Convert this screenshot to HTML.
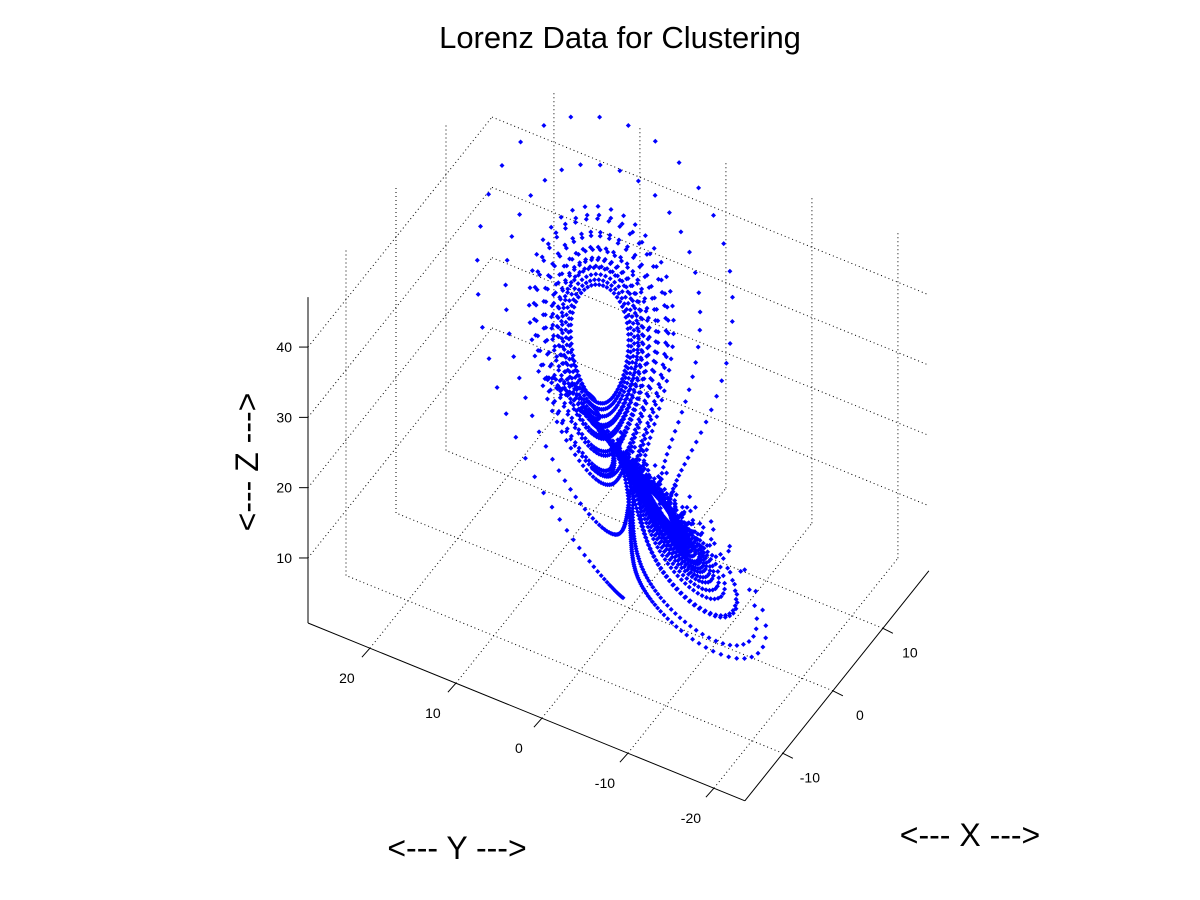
<!DOCTYPE html>
<html><head><meta charset="utf-8"><style>
html,body{margin:0;padding:0;background:#fff;}
svg{display:block;font-family:"Liberation Sans",sans-serif;}
</style></head><body>
<svg id="chart" width="1200" height="900" viewBox="0 0 1200 900" xmlns="http://www.w3.org/2000/svg">
<rect width="1200" height="900" fill="#fff"/>
<text x="620" y="48" font-size="31" text-anchor="middle" fill="#000">Lorenz Data for Clustering</text>
<g id="grid" stroke="#000" stroke-width="1" stroke-dasharray="1,3" fill="none"></g>
<g id="axes" stroke="#000" stroke-width="1" fill="none"></g>
<g id="ticklabels" font-size="14" fill="#000"></g>
<g id="points" fill="#0000ff"></g>
<text x="457" y="859" font-size="32" text-anchor="middle" fill="#000">&lt;--- Y ---&gt;</text>
<text x="970" y="846" font-size="32" text-anchor="middle" fill="#000">&lt;--- X ---&gt;</text>
<text transform="translate(258,462) rotate(-90)" font-size="32" text-anchor="middle" fill="#000">&lt;--- Z ---&gt;</text>
</svg>
<script>
const xTicks = [-10, 0, 10];
const yTicks = [20, 10, 0, -10, -20];
const zTicks = [10, 20, 30, 40];
const xLim = [-17.6, 19.2];
const yLim = [-23.6, 27.2];
const zLim = [0.75, 47.1];
const lorenzParams = [10, 28, 8 / 3];
const initialState = [0.5, 1, 1.2];
const sampleCount = [3000];

const NS = 'http://www.w3.org/2000/svg';
function P(x, y, z) {
  const sx = 308 + (x - xLim[0]) * 5.0 + (yLim[1] - y) * 8.6;
  const sy = 623 - (x - xLim[0]) * 6.25 + (yLim[1] - y) * 3.5 - (z - zLim[0]) * 7.03;
  return [sx, sy];
}
function line(g, a, b, name) {
  const l = document.createElementNS(NS, 'line');
  l.setAttribute('x1', a[0]); l.setAttribute('y1', a[1]);
  l.setAttribute('x2', b[0]); l.setAttribute('y2', b[1]);
  
  
  g.appendChild(l);
}
function label(g, x, y, t, anchor, name) {
  const e = document.createElementNS(NS, 'text');
  e.setAttribute('x', x); e.setAttribute('y', y);
  e.setAttribute('text-anchor', anchor);
  e.textContent = t;
  
  
  g.appendChild(e);
}
const grid = document.getElementById('grid');
const X0 = xLim[0], X1 = xLim[1], Y0 = yLim[0], Y1 = yLim[1], Z0 = zLim[0], Z1 = zLim[1];
xTicks.forEach(x => line(grid, P(x, Y0, Z0), P(x, Y1, Z0), 'floor-grid-x'));
yTicks.forEach(y => line(grid, P(X0, y, Z0), P(X1, y, Z0), 'floor-grid-y'));
xTicks.forEach(x => line(grid, P(x, Y1, Z0), P(x, Y1, Z1), 'back-grid-x'));
zTicks.forEach(z => line(grid, P(X0, Y1, z), P(X1, Y1, z), 'back-grid-z-left'));
yTicks.forEach(y => line(grid, P(X1, y, Z0), P(X1, y, Z1), 'back-grid-y'));
zTicks.forEach(z => line(grid, P(X1, Y1, z), P(X1, Y0, z), 'back-grid-z-right'));

const axes = document.getElementById('axes');
line(axes, P(X0, Y1, Z0), P(X0, Y1, Z1), 'z-axis-line');
line(axes, P(X0, Y1, Z0), P(X0, Y0, Z0), 'y-axis-line');
line(axes, P(X0, Y0, Z0), P(X1, Y0, Z0), 'x-axis-line');
const tl = document.getElementById('ticklabels');
zTicks.forEach(z => {
  const p = P(X0, Y1, z);
  line(axes, [p[0] - 9, p[1]], p, 'z-tick');
  label(tl, p[0] - 16, p[1] + 5, String(z), 'end', 'z-tick-label');
});
yTicks.forEach(y => {
  const p = P(X0, y, Z0);
  line(axes, p, [p[0] - 8, p[1] + 9], 'y-tick');
  label(tl, p[0] - 23, p[1] + 35, String(y), 'middle', 'y-tick-label');
});
xTicks.forEach(x => {
  const p = P(x, Y0, Z0);
  line(axes, p, [p[0] + 10, p[1] + 5], 'x-tick');
  label(tl, p[0] + 27, p[1] + 29, String(x), 'middle', 'x-tick-label');
});

const pts = document.getElementById('points');
let s = initialState.slice();
const [sig, rho, bet] = lorenzParams;
function f(v) { return [sig * (v[1] - v[0]), v[0] * (rho - v[2]) - v[1], v[0] * v[1] - bet * v[2]]; }
const h = 0.005;
for (let i = 0; i < sampleCount[0]; i++) {
  for (let k = 0; k < 2; k++) {
    const k1 = f(s);
    const k2 = f(s.map((v, j) => v + h / 2 * k1[j]));
    const k3 = f(s.map((v, j) => v + h / 2 * k2[j]));
    const k4 = f(s.map((v, j) => v + h * k3[j]));
    s = s.map((v, j) => v + h / 6 * (k1[j] + 2 * k2[j] + 2 * k3[j] + k4[j]));
  }
  const p = P(s[0], s[1], s[2]);
  const c = document.createElementNS(NS, 'path');
  const cx = p[0].toFixed(1), cy = p[1].toFixed(1);
  c.setAttribute('d', 'M' + cx + ' ' + (p[1] - 2.5).toFixed(1) + 'L' + (p[0] + 2.5).toFixed(1) + ' ' + cy + 'L' + cx + ' ' + (p[1] + 2.5).toFixed(1) + 'L' + (p[0] - 2.5).toFixed(1) + ' ' + cy + 'Z');
  
  
  pts.appendChild(c);
}
</script>
</body></html>
